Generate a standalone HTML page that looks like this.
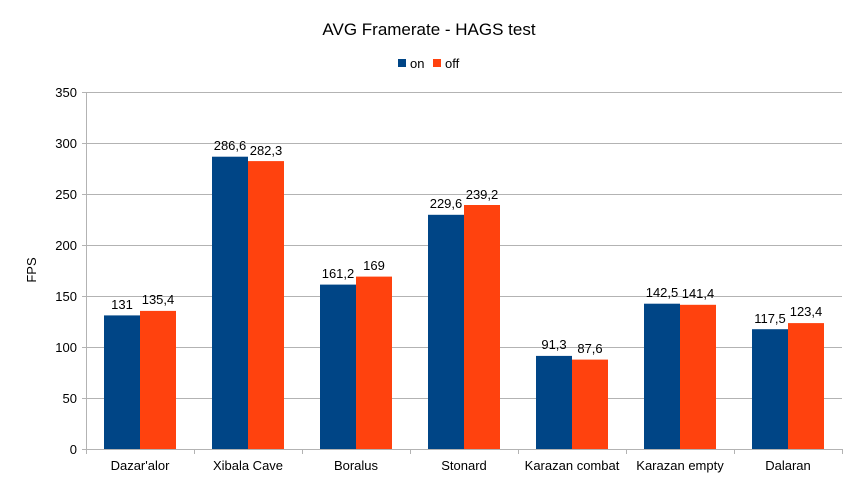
<!DOCTYPE html>
<html><head><meta charset="utf-8"><style>
html,body{margin:0;padding:0;background:#fff}
svg{display:block;font-family:"Liberation Sans",sans-serif}
</style></head><body>
<svg width="858" height="483" viewBox="0 0 858 483" xmlns="http://www.w3.org/2000/svg">
<rect width="858" height="483" fill="#fff"/>
<text x="429" y="35" font-size="17" text-anchor="middle" fill="#000">AVG Framerate - HAGS test</text>
<rect x="398" y="59" width="8" height="8" fill="#004586"/>
<text x="410" y="68" font-size="13">on</text>
<rect x="433" y="59" width="8" height="8" fill="#ff420e"/>
<text x="445" y="68" font-size="13">off</text>
<g stroke="#b3b3b3" stroke-width="1">
<line x1="82" y1="92.5" x2="842" y2="92.5"/>
<line x1="82" y1="143.5" x2="842" y2="143.5"/>
<line x1="82" y1="194.5" x2="842" y2="194.5"/>
<line x1="82" y1="245.5" x2="842" y2="245.5"/>
<line x1="82" y1="296.5" x2="842" y2="296.5"/>
<line x1="82" y1="347.5" x2="842" y2="347.5"/>
<line x1="82" y1="398.5" x2="842" y2="398.5"/>
<line x1="86.5" y1="92" x2="86.5" y2="454"/>
</g>
<g font-size="13" text-anchor="end">
<text x="77" y="97">350</text><text x="77" y="148">300</text><text x="77" y="199">250</text>
<text x="77" y="250">200</text><text x="77" y="301">150</text><text x="77" y="352">100</text>
<text x="77" y="403">50</text><text x="77" y="454">0</text>
</g>
<text transform="translate(36,270) rotate(-90)" font-size="13" text-anchor="middle">FPS</text>
<g stroke="#b3b3b3" stroke-width="1">
<line x1="82" y1="449.5" x2="842" y2="449.5"/>
<line x1="194.5" y1="449" x2="194.5" y2="454"/><line x1="302.5" y1="449" x2="302.5" y2="454"/>
<line x1="410.5" y1="449" x2="410.5" y2="454"/><line x1="518.5" y1="449" x2="518.5" y2="454"/>
<line x1="626.5" y1="449" x2="626.5" y2="454"/><line x1="734.5" y1="449" x2="734.5" y2="454"/>
<line x1="842.5" y1="449" x2="842.5" y2="454"/>
</g>
<rect x="104" y="315.4" width="36" height="133.6" fill="#004586"/>
<rect x="140" y="310.9" width="36" height="138.1" fill="#ff420e"/>
<rect x="212" y="156.7" width="36" height="292.3" fill="#004586"/>
<rect x="248" y="161.1" width="36" height="287.9" fill="#ff420e"/>
<rect x="320" y="284.6" width="36" height="164.4" fill="#004586"/>
<rect x="356" y="276.6" width="36" height="172.4" fill="#ff420e"/>
<rect x="428" y="214.8" width="36" height="234.2" fill="#004586"/>
<rect x="464" y="205.0" width="36" height="244.0" fill="#ff420e"/>
<rect x="536" y="355.9" width="36" height="93.1" fill="#004586"/>
<rect x="572" y="359.6" width="36" height="89.4" fill="#ff420e"/>
<rect x="644" y="303.7" width="36" height="145.3" fill="#004586"/>
<rect x="680" y="304.8" width="36" height="144.2" fill="#ff420e"/>
<rect x="752" y="329.2" width="36" height="119.8" fill="#004586"/>
<rect x="788" y="323.1" width="36" height="125.9" fill="#ff420e"/>
<g font-size="13" text-anchor="middle">
<text x="122" y="309">131</text><text x="158" y="304">135,4</text>
<text x="230" y="150">286,6</text><text x="266" y="155">282,3</text>
<text x="338" y="278">161,2</text><text x="374" y="270">169</text>
<text x="446" y="208">229,6</text><text x="482" y="199">239,2</text>
<text x="554" y="349">91,3</text><text x="590" y="353">87,6</text>
<text x="662" y="297">142,5</text><text x="698" y="298">141,4</text>
<text x="770" y="323">117,5</text><text x="806" y="316">123,4</text>
</g>
<g font-size="13" text-anchor="middle">
<text x="140" y="470">Dazar'alor</text><text x="248" y="470">Xibala Cave</text>
<text x="356" y="470">Boralus</text><text x="464" y="470">Stonard</text>
<text x="572" y="470">Karazan combat</text><text x="680" y="470">Karazan empty</text>
<text x="788" y="470">Dalaran</text>
</g>
</svg>
</body></html>
